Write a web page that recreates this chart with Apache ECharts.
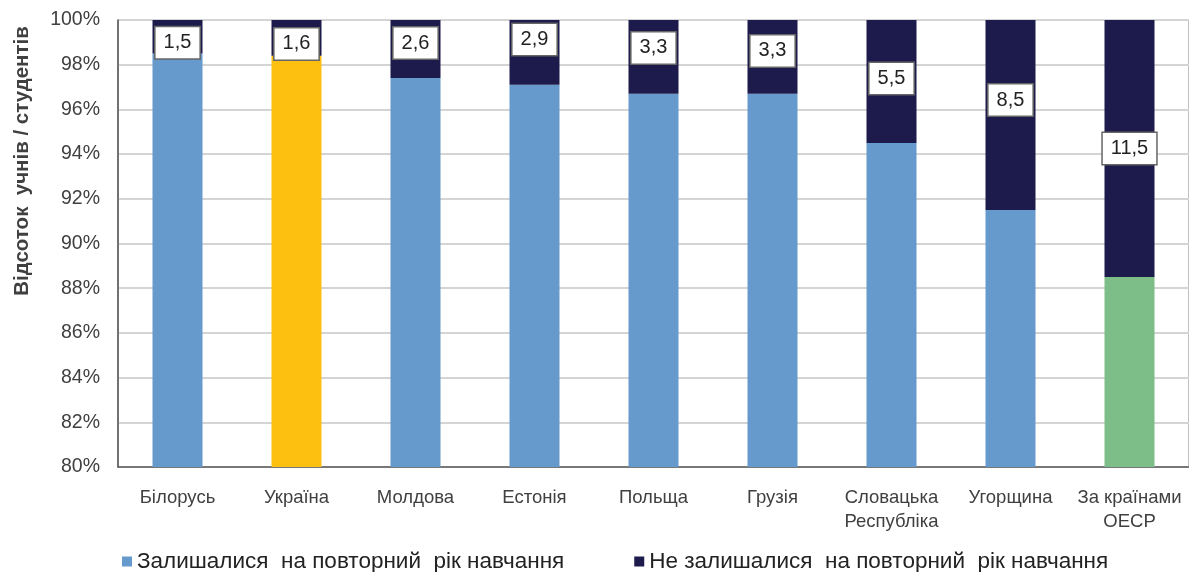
<!DOCTYPE html>
<html>
<head>
<meta charset="utf-8">
<script src="https://cdn.jsdelivr.net/npm/echarts@6/dist/echarts.min.js"></script>
<style>
  html, body { margin: 0; padding: 0; background: #fff; }
  #chart { width: 1189px; height: 572px; }
</style>
</head>
<body>
<div id="chart"></div>
<script>
// дані
var countries = ['Білорусь', 'Україна', 'Молдова', 'Естонія', 'Польща', 'Грузія', 'Словацька\nРеспубліка', 'Угорщина', 'За країнами\nОЕСР'];
var stayed = [98.5, 98.4, 97.4, 97.1, 96.7, 96.7, 94.5, 91.5, 88.5];
var notStayed = [1.5, 1.6, 2.6, 2.9, 3.3, 3.3, 5.5, 8.5, 11.5];
var seriesNames = ['Залишалися  на повторний  рік навчання', 'Не залишалися  на повторний  рік навчання'];
var yTitle = 'Відсоток  учнів / студентів';

var blue = '#6699cc', navy = '#1c1b4b';
var special = { 'Україна': '#fdbf10', 'За країнами\nОЕСР': '#7dbd88' };
// зсув підписів по вертикалі (як в оригіналі)
var labelShift = [6, 6, -6, -13, -9, -6, -3, -15, 0];

var chart = echarts.init(document.getElementById('chart'));

var option = {
  animation: false,
  textStyle: { fontFamily: 'Liberation Sans, Arial, sans-serif' },
  grid: {
    left: 118, right: -3, top: 20, bottom: 105,
    show: true, borderColor: '#808080', borderWidth: 1
  },
  legend: {
    top: 545, left: 117,
    itemWidth: 10, itemHeight: 10, itemGap: 70,
    icon: 'rect',
    textStyle: { fontSize: 22.5, color: '#222' },
    data: seriesNames
  },
  graphic: [{
    type: 'text',
    x: 22, y: 161,
    rotation: Math.PI / 2,
    style: {
      text: yTitle,
      fontSize: 20.5, fontWeight: 'bold', fill: '#404040',
      fontFamily: 'Liberation Sans, Arial, sans-serif',
      align: 'center', verticalAlign: 'middle'
    }
  }],
  xAxis: {
    type: 'category',
    data: countries,
    axisLine: { lineStyle: { color: '#595959', width: 1.5 } },
    axisTick: { show: false },
    axisLabel: { fontSize: 18.5, color: '#404040', margin: 19, lineHeight: 24, interval: 0 }
  },
  yAxis: {
    type: 'value',
    min: 80, max: 100, interval: 2,
    axisLine: { show: true, lineStyle: { color: '#595959', width: 1.5 } },
    axisTick: { show: false },
    axisLabel: { fontSize: 19.5, color: '#404040', margin: 18, formatter: '{value}%' },
    splitLine: { lineStyle: { color: '#d4d4d4', width: 2 } }
  },
  series: [{
    name: seriesNames[0],
    type: 'bar',
    stack: 'total',
    barWidth: 50,
    itemStyle: { color: blue },
    data: stayed.map(function (v, i) {
      var c = special[countries[i]];
      return c ? { value: v, itemStyle: { color: c } } : v;
    })
  }, {
    name: seriesNames[1],
    type: 'bar',
    stack: 'total',
    barWidth: 50,
    itemStyle: { color: navy },
    label: {
      show: true,
      position: 'inside',
      formatter: function (p) { return String(p.value).replace('.', ','); },
      fontSize: 20, color: '#222',
      backgroundColor: '#fff',
      borderColor: '#666', borderWidth: 1.5,
      padding: [6, 8, 5, 8]
    },
    data: notStayed.map(function (v, i) {
      return { value: v, label: { offset: [0, labelShift[i]] } };
    })
  }]
};

chart.setOption(option);
</script>
</body>
</html>
